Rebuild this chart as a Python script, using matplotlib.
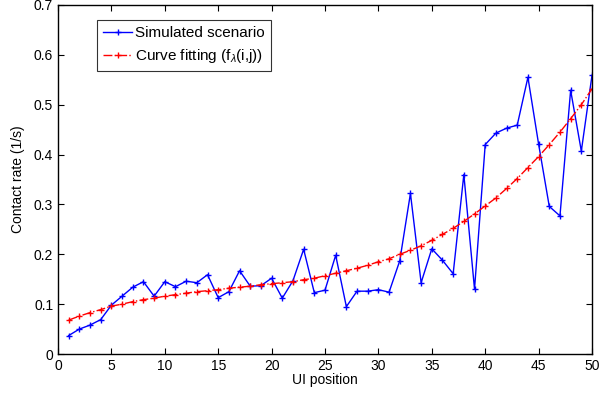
import matplotlib
matplotlib.use("Agg")
import matplotlib.pyplot as plt
import numpy as np

plt.rcParams['font.family'] = ['Liberation Sans', 'DejaVu Sans']
plt.rcParams['mathtext.fontset'] = 'custom'
plt.rcParams['mathtext.rm'] = 'Liberation Sans'
plt.rcParams['mathtext.it'] = 'Liberation Sans:italic'

# UI position 1..50
ui_pos = list(range(1, 51))

simulated = [0.037, 0.050, 0.058, 0.069, 0.098, 0.116, 0.134, 0.145, 0.116, 0.145,
             0.135, 0.146, 0.143, 0.159, 0.113, 0.125, 0.167, 0.136, 0.137, 0.152,
             0.112, 0.147, 0.210, 0.123, 0.128, 0.198, 0.095, 0.126, 0.126, 0.129,
             0.124, 0.187, 0.322, 0.143, 0.211, 0.188, 0.161, 0.360, 0.130, 0.420,
             0.443, 0.453, 0.459, 0.555, 0.421, 0.296, 0.277, 0.529, 0.407, 0.559]

fitted = [0.068, 0.076, 0.083, 0.089, 0.096, 0.100, 0.105, 0.109, 0.112, 0.116,
          0.119, 0.122, 0.125, 0.127, 0.129, 0.132, 0.134, 0.136, 0.139, 0.141,
          0.143, 0.145, 0.149, 0.152, 0.157, 0.162, 0.167, 0.172, 0.178, 0.185,
          0.191, 0.200, 0.208, 0.217, 0.228, 0.240, 0.252, 0.266, 0.281, 0.297,
          0.313, 0.332, 0.352, 0.374, 0.396, 0.420, 0.445, 0.472, 0.500, 0.532]

fig = plt.figure(figsize=(6.16, 3.96), dpi=100)
ax = fig.add_axes([58 / 616, 42 / 396, 534 / 616, 349 / 396])

ax.plot(ui_pos, simulated, color='#0000ff', linestyle='-', marker='+',
        markersize=5, linewidth=1.0, label='Simulated scenario')
ax.plot(ui_pos, fitted, color='#ff0000', linestyle='-.', marker='+',
        markersize=5, linewidth=1.0, label=r'Curve fitting (f$_{\lambda}$(i,j))')

ax.set_xlim(0, 50)
ax.set_ylim(0, 0.7)
ax.set_xticks(np.arange(0, 51, 5))
ax.set_yticks(np.arange(0, 0.71, 0.1))
ax.set_yticklabels(['0', '0.1', '0.2', '0.3', '0.4', '0.5', '0.6', '0.7'])
ax.tick_params(direction='in', top=True, right=True, labelsize=10, length=4)
for s in ax.spines.values():
    s.set_linewidth(1.0)

ax.set_xlabel('UI position', fontsize=10, labelpad=0)
ax.set_ylabel('Contact rate (1/s)', fontsize=10, labelpad=6)

leg = ax.legend(loc='upper left', bbox_to_anchor=(0.073, 0.957), fontsize=11,
                frameon=True, fancybox=False, handlelength=1.9,
                borderpad=0.4, labelspacing=0.45, handletextpad=0.2,
                borderaxespad=0)
leg.get_frame().set_edgecolor('black')
leg.get_frame().set_linewidth(0.8)

fig.savefig('out.png', dpi=100)
